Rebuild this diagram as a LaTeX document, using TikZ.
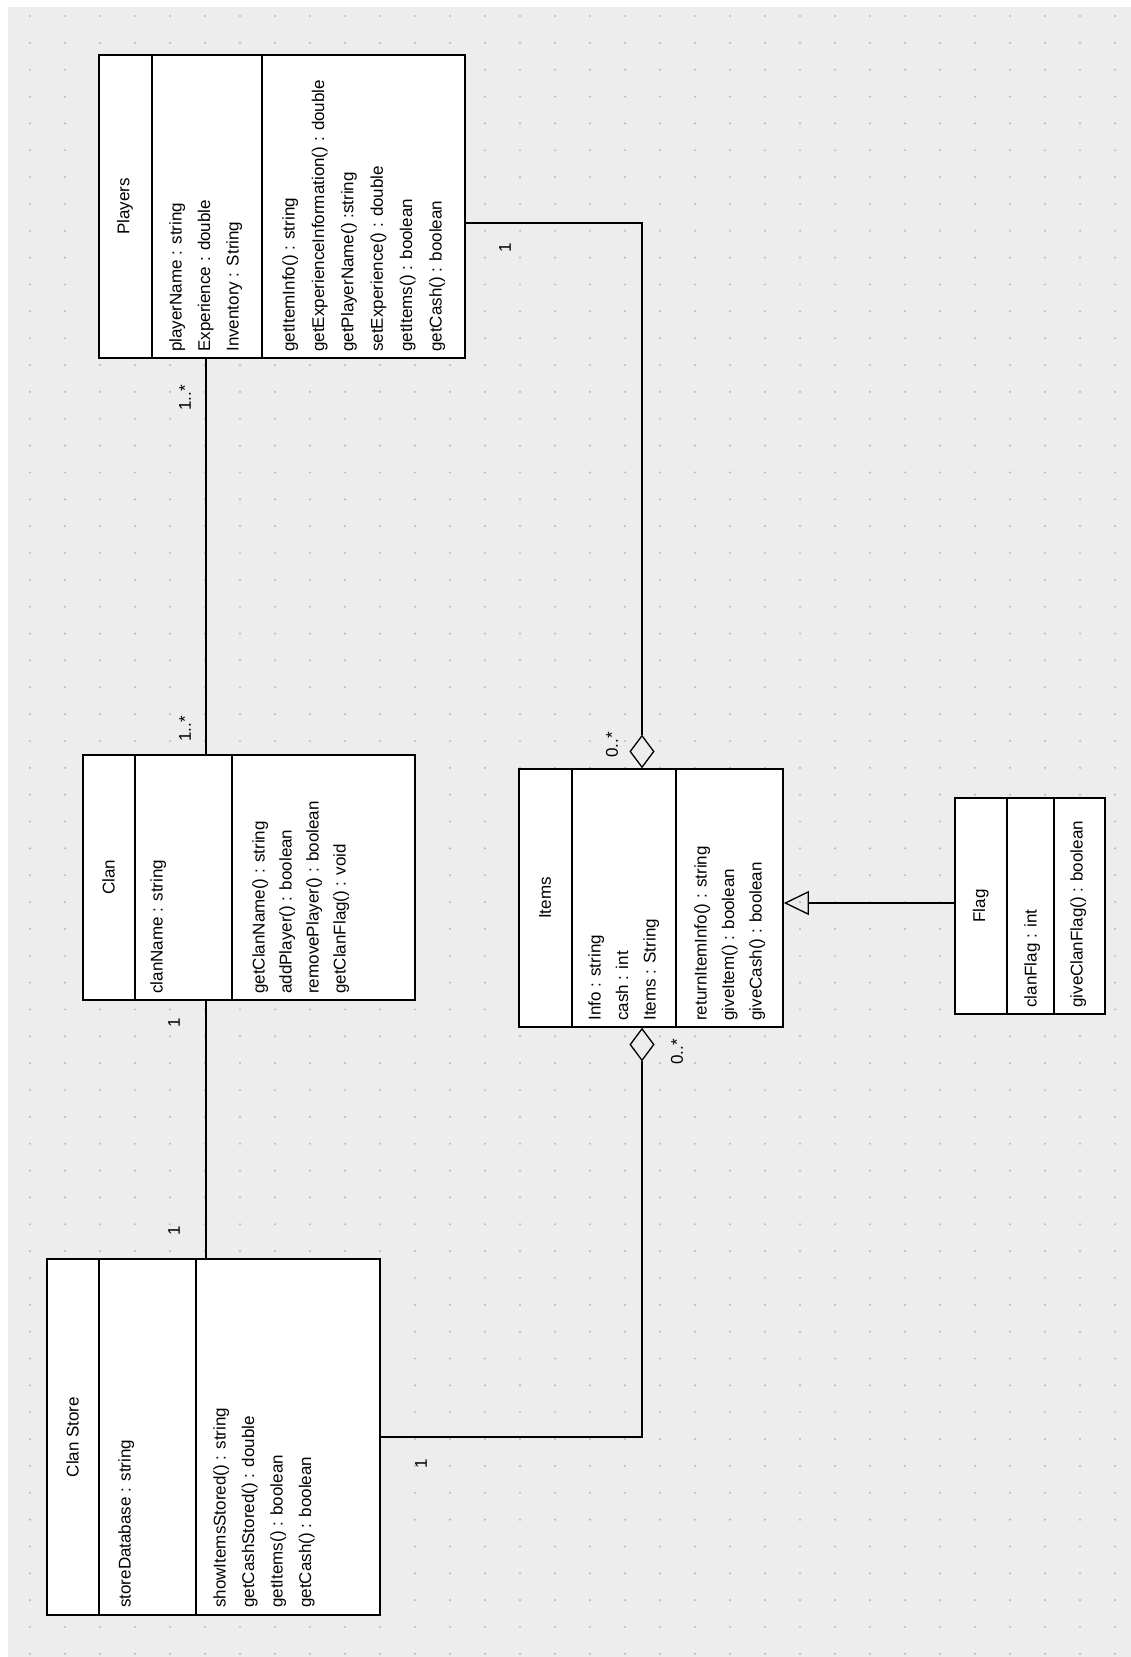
\documentclass[tikz,border=0pt]{standalone}
\usepackage{fontspec}
\setmainfont{Liberation Sans}
\usetikzlibrary{shapes.geometric, arrows.meta}
\definecolor{bggray}{RGB}{237,237,237}
\definecolor{dotgray}{RGB}{190,190,190}

\begin{document}
\begin{tikzpicture}[x=1pt, y=-1pt,
    classbox/.style={draw, line width=1.8pt, fill=white, inner sep=0pt},
    txt/.style={rotate=90, inner sep=0pt, font=\fontsize{17}{28.5}\selectfont},
    members/.style={txt, anchor=north west, align=left},
    link/.style={line width=1.3pt},
    agg/.style={diamond, draw, line width=1.3pt, fill=bggray, inner sep=0pt, minimum width=24pt, minimum height=32pt}]
	\useasboundingbox (0,0) rectangle (1131,1657);
	\fill[white] (0,0) rectangle (1131,1657);
	\fill[bggray] (8,7) rectangle (1131,1657);
	% grid dots
	\foreach \i in {0,...,31}
		\foreach \j in {0,...,61}
			\fill[dotgray] ({30+35*\i},{16+26.85*\j}) circle (1.2);

	% classes
	\node[classbox, minimum width=366pt, minimum height=303pt] (players) at (282,206.5) {};
	\draw[line width=1.6pt] ([xshift=54pt]players.north west) -- ([xshift=54pt]players.south west);
	\draw[line width=1.6pt] ([xshift=164pt]players.north west) -- ([xshift=164pt]players.south west);
	\node[txt] (playerstitle) at ([xshift=27pt]players.west) {Players};
	\node[members] (playersattr) at ([xshift=71pt, yshift=7pt]players.south west) {playerName : string\\ Experience : double\\ Inventory : String};
	\node[members, font=\fontsize{17}{29.4}\selectfont] (playersops) at ([xshift=184pt, yshift=7pt]players.south west) {getItemInfo() : string\\ getExperienceInformation() : double\\ getPlayerName() :string\\ setExperience() : double\\ getItems() : boolean\\ getCash() : boolean};

	\node[classbox, minimum width=332pt, minimum height=245pt] (clan) at (249,877.5) {};
	\draw[line width=1.6pt] ([xshift=53pt]clan.north west) -- ([xshift=53pt]clan.south west);
	\draw[line width=1.6pt] ([xshift=150pt]clan.north west) -- ([xshift=150pt]clan.south west);
	\node[txt] (clantitle) at ([xshift=26.5pt]clan.west) {Clan};
	\node[members] (clanattr) at ([xshift=68pt, yshift=7pt]clan.south west) {clanName : string};
	\node[members, font=\fontsize{17}{27}\selectfont] (clanops) at ([xshift=170pt, yshift=7pt]clan.south west) {getClanName() : string\\ addPlayer() : boolean\\ removePlayer() : boolean\\ getClanFlag() : void};

	\node[classbox, minimum width=333pt, minimum height=356pt] (store) at (213.5,1437) {};
	\draw[line width=1.6pt] ([xshift=53pt]store.north west) -- ([xshift=53pt]store.south west);
	\draw[line width=1.6pt] ([xshift=150pt]store.north west) -- ([xshift=150pt]store.south west);
	\node[txt] (storetitle) at ([xshift=26.5pt]store.west) {Clan Store};
	\node[members] (storeattr) at ([xshift=72pt, yshift=8pt]store.south west) {storeDatabase : string};
	\node[members] (storeops) at ([xshift=167pt, yshift=8pt]store.south west) {showItemsStored() : string\\ getCashStored() : double\\ getItems() : boolean\\ getCash() : boolean};

	\node[classbox, minimum width=264pt, minimum height=258pt] (items) at (651,898) {};
	\draw[line width=1.6pt] ([xshift=54pt]items.north west) -- ([xshift=54pt]items.south west);
	\draw[line width=1.6pt] ([xshift=158pt]items.north west) -- ([xshift=158pt]items.south west);
	\node[txt] (itemstitle) at ([xshift=27pt]items.west) {Items};
	\node[members, font=\fontsize{17}{27.5}\selectfont] (itemsattr) at ([xshift=70pt, yshift=7pt]items.south west) {Info : string\\ cash : int\\ Items : String};
	\node[members, font=\fontsize{17}{27.5}\selectfont] (itemsops) at ([xshift=176pt, yshift=7pt]items.south west) {returnItemInfo() : string\\ giveItem() : boolean\\ giveCash() : boolean};

	\node[classbox, minimum width=150pt, minimum height=216pt] (flag) at (1030,906) {};
	\draw[line width=1.6pt] ([xshift=53pt]flag.north west) -- ([xshift=53pt]flag.south west);
	\draw[line width=1.6pt] ([xshift=100pt]flag.north west) -- ([xshift=100pt]flag.south west);
	\node[txt] (flagtitle) at ([xshift=26.5pt]flag.west) {Flag};
	\node[members] (flagattr) at ([xshift=70pt, yshift=7pt]flag.south west) {clanFlag : int};
	\node[members] (flagops) at ([xshift=116pt, yshift=7pt]flag.south west) {giveClanFlag() : boolean};

	% associations
	\node[agg, anchor=south] (aggtop) at ([xshift=-9pt]items.north) {};
	\node[agg, anchor=north] (aggbot) at ([xshift=-9pt]items.south) {};
	\draw[link] ([yshift=-16.5pt]players.east) -| (aggtop.north);
	\draw[link] (store.east) -| (aggbot.south);
	\draw[link] ([xshift=-76pt]players.south) -- ([xshift=-76pt]players.south |- clan.north);
	\draw[link] ([xshift=-43pt]clan.south) -- ([xshift=-43pt]clan.south |- store.north);
	\draw[link, -{Triangle[open, length=25pt, width=24pt, line width=1.3pt]}] ([yshift=3pt]flag.west) -- ([yshift=3pt]flag.west -| items.east);

	% multiplicities
	\node[txt] (m1) at (185,398) {1..*};
	\node[txt] (m2) at (185,729) {1..*};
	\node[txt] (m3) at (174,1023) {1};
	\node[txt] (m4) at (174,1231) {1};
	\node[txt] (m5) at (505,248) {1};
	\node[txt] (m6) at (421,1464) {1};
	\node[txt] (m7) at (612,745) {0..*};
	\node[txt] (m8) at (677,1052) {0..*};
\end{tikzpicture}
\end{document}
